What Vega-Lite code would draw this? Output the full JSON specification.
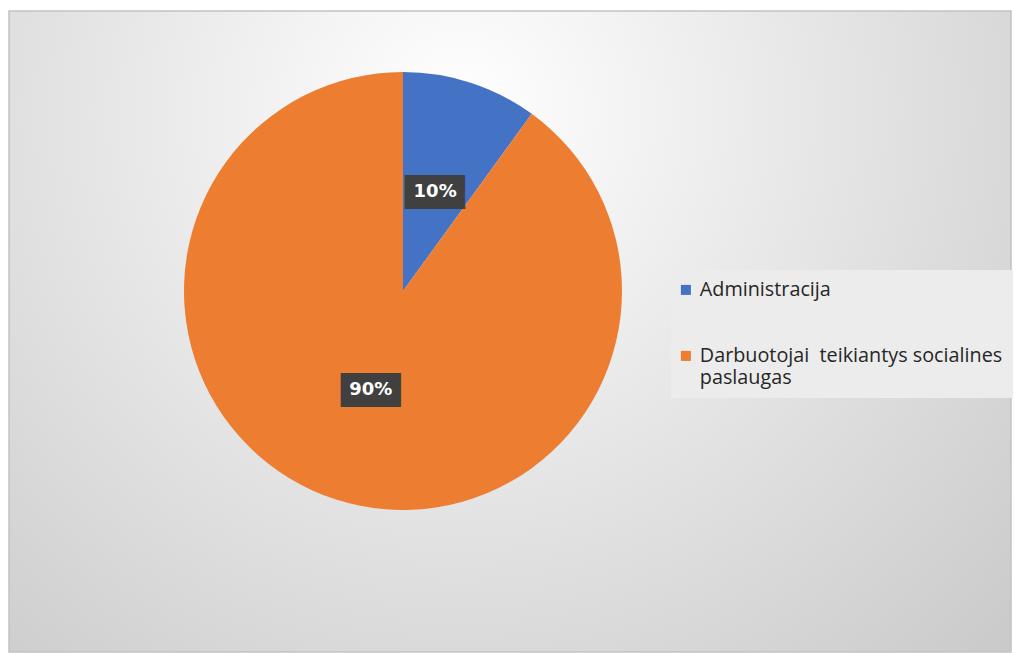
{
  "$schema": "https://vega.github.io/schema/vega-lite/v6.json",
  "width": 1014,
  "height": 653,
  "autosize": {"type": "fit", "contains": "padding"},
  "padding": {"left": 8, "top": 10, "right": 2, "bottom": 0},
  "background": "#ffffff",
  "config": {"view": {"stroke": null}},
  "data": {
    "values": [
      {"category": "Administracija", "value": 10, "label": "10%"},
      {"category": "Darbuotojai  teikiantys socialines paslaugas", "value": 90, "label": "90%"}
    ]
  },
  "layer": [
    {
      "data": {"values": [{"panel": "chart"}]},
      "mark": {
        "type": "rect",
        "stroke": "#c2c2c2",
        "strokeWidth": 1.5,
        "color": {
          "gradient": "radial",
          "x1": 0.45, "y1": 0.28, "r1": 0,
          "x2": 0.45, "y2": 0.28, "r2": 0.85,
          "stops": [
            {"offset": 0, "color": "#ffffff"},
            {"offset": 1, "color": "#c4c4c4"}
          ]
        }
      },
      "encoding": {
        "x": {"value": 0},
        "x2": {"value": "width"},
        "y": {"value": 0},
        "y2": {"value": "height"}
      }
    },
    {
      "mark": {"type": "arc", "x": 394, "y": 280, "outerRadius": 219},
      "encoding": {
        "theta": {"field": "value", "type": "quantitative", "stack": true},
        "color": {
          "field": "category",
          "type": "nominal",
          "scale": {
            "domain": ["Administracija", "Darbuotojai  teikiantys socialines paslaugas"],
            "range": ["#4472c4", "#ed7d31"]
          },
          "legend": {
            "orient": "none",
            "legendX": 662,
            "legendY": 259,
            "title": null,
            "symbolType": "square",
            "symbolSize": 100,
            "symbolStrokeWidth": 0,
            "symbolOffset": -5,
            "labelFont": "Open Sans",
            "labelFontSize": 19.8,
            "labelColor": "#262626",
            "labelLimit": 500,
            "labelOffset": 4,
            "padding": 10,
            "fillColor": "#ececec",
            "rowPadding": 45,
            "labelExpr": "datum.value == 'Administracija' ? datum.label : ['Darbuotojai\u00a0 teikiantys socialines', 'paslaugas']",
            "encoding": {"labels": {"update": {"lineHeight": {"value": 27}}}}
          }
        }
      }
    },
    {
      "mark": {
        "type": "text", "x": 394, "y": 280, "radius": 104,
        "text": "▇▇▇", "font": "DejaVu Sans Mono", "fontSize": 33,
        "color": "#404040", "baseline": "middle", "align": "center", "dy": -1
      },
      "encoding": {
        "theta": {"field": "value", "type": "quantitative", "stack": true},
        "detail": {"field": "category"}
      }
    },
    {
      "mark": {
        "type": "text", "x": 394, "y": 280, "radius": 104,
        "font": "DejaVu Sans", "fontWeight": "bold", "fontSize": 18,
        "color": "#ffffff", "baseline": "middle", "align": "center"
      },
      "encoding": {
        "theta": {"field": "value", "type": "quantitative", "stack": true},
        "detail": {"field": "category"},
        "text": {"field": "label"}
      }
    }
  ]
}
